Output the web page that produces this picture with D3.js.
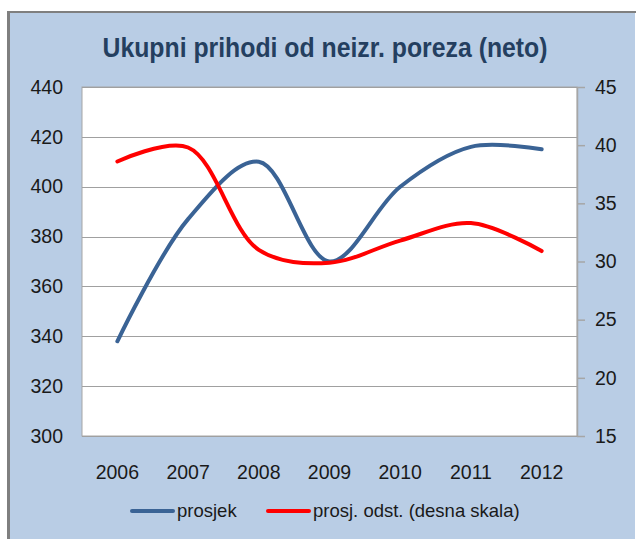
<!DOCTYPE html>
<html>
<head>
<meta charset="utf-8">
<script src="https://cdn.jsdelivr.net/npm/d3@7"></script>
<style>
  html, body { margin: 0; padding: 0; background: #fff; }
  svg { display: block; }
</style>
</head>
<body>
<div id="chart"></div>
<script>
"use strict";

// Data
const years = ["2006", "2007", "2008", "2009", "2010", "2011", "2012"];
const prosjek = [338, 387, 410, 370, 400, 416, 415];          // left axis
const prosjOdst = [38.6, 39.8, 31.0, 29.9, 31.8, 33.3, 30.9];  // right axis
const leftTicks = [300, 320, 340, 360, 380, 400, 420, 440];
const rightTicks = [15, 20, 25, 30, 35, 40, 45];
const seriesNames = ["prosjek", "prosj. odst. (desna skala)"];
const title = "Ukupni prihodi od neizr. poreza (neto)";

const W = 636, H = 539;
const plot = { left: 82, right: 577, top: 87, bottom: 436 };
const BG = "#b9cde5";
const BLUE = "#3a6395";
const RED = "#ff0000";
const TXT = "#1a1a1a";
const FONT = "'Liberation Sans', Arial, sans-serif";

const svg = d3.select("#chart").append("svg")
  .attr("width", W).attr("height", H);

// Chart area background + border (top and left visible)
svg.append("rect").attr("x", 0).attr("y", 0).attr("width", W).attr("height", H).attr("fill", "#fff");
svg.append("rect").attr("x", 8).attr("y", 12).attr("width", W - 9).attr("height", H - 12).attr("fill", BG);
svg.append("line").attr("x1", 8.5).attr("x2", 8.5).attr("y1", 11).attr("y2", H)
  .attr("stroke", "#7f7f7f").attr("stroke-width", 3);
svg.append("line").attr("x1", 7).attr("x2", W).attr("y1", 12).attr("y2", 12)
  .attr("stroke", "#7f7f7f").attr("stroke-width", 2);

// Title
svg.append("text")
  .attr("x", 325).attr("y", 57)
  .attr("text-anchor", "middle")
  .attr("font-family", "'Liberation Sans Narrow', 'Liberation Sans', Arial, sans-serif")
  .attr("font-size", 27)
  .attr("font-weight", "bold")
  .attr("fill", "#243f60")
  .attr("textLength", 445)
  .attr("lengthAdjust", "spacingAndGlyphs")
  .text(title);

// Scales
const x = d3.scaleBand().domain(years).range([plot.left, plot.right]);
const yL = d3.scaleLinear().domain([300, 440]).range([plot.bottom, plot.top]);
const yR = d3.scaleLinear().domain([15, 45]).range([plot.bottom, plot.top]);

// Plot area
svg.append("rect")
  .attr("x", plot.left).attr("y", plot.top)
  .attr("width", plot.right - plot.left).attr("height", plot.bottom - plot.top)
  .attr("fill", "#fff").attr("stroke", "#a6a6a6").attr("stroke-width", 1);

// Gridlines
svg.append("g").selectAll("line").data(leftTicks).join("line")
  .attr("x1", plot.left).attr("x2", plot.right)
  .attr("y1", (d) => Math.round(yL(d)) + 0.5).attr("y2", (d) => Math.round(yL(d)) + 0.5)
  .attr("stroke", "#a0a0a0").attr("stroke-width", 1.2);

// Left axis labels
const axL = svg.append("g")
  .attr("transform", `translate(${plot.left},0)`)
  .call(d3.axisLeft(yL).tickValues(leftTicks).tickSize(0).tickPadding(19));
axL.select(".domain").remove();
axL.selectAll("text").attr("font-family", FONT).attr("font-size", 19.5).attr("fill", TXT);

// Right axis
const axR = svg.append("g")
  .attr("transform", `translate(${plot.right},0)`)
  .call(d3.axisRight(yR).tickValues(rightTicks).tickSize(8).tickSizeOuter(0).tickPadding(10));
axR.select(".domain").attr("stroke", "#a6a6a6").attr("stroke-width", 1.5);
axR.selectAll(".tick line").attr("stroke", "#a6a6a6").attr("stroke-width", 1.5);
axR.selectAll("text").attr("font-family", FONT).attr("font-size", 19.5).attr("fill", TXT);

// X axis labels
const axX = svg.append("g")
  .attr("transform", `translate(0,${plot.bottom})`)
  .call(d3.axisBottom(x).tickSize(0).tickPadding(29));
axX.select(".domain").remove();
axX.selectAll("text").attr("font-family", FONT).attr("font-size", 19.5).attr("fill", TXT);

// Lines (smoothed like the spreadsheet)
const cx = (d, i) => x(years[i]) + x.bandwidth() / 2;
const lineL = d3.line().x(cx).y((d) => yL(d)).curve(d3.curveCatmullRom.alpha(0.5));
const lineR = d3.line().x(cx).y((d) => yR(d)).curve(d3.curveCatmullRom.alpha(0.5));

svg.append("path").datum(prosjek)
  .attr("d", lineL).attr("fill", "none")
  .attr("stroke", BLUE).attr("stroke-width", 4).attr("stroke-linecap", "round");
svg.append("path").datum(prosjOdst)
  .attr("d", lineR).attr("fill", "none")
  .attr("stroke", RED).attr("stroke-width", 4).attr("stroke-linecap", "round");

// Legend
const legend = [
  { name: seriesNames[0], color: BLUE, x: 132 },
  { name: seriesNames[1], color: RED, x: 268 }
];
const lg = svg.append("g").attr("transform", "translate(0,511)");
legend.forEach((l) => {
  lg.append("line")
    .attr("x1", l.x).attr("x2", l.x + 41).attr("y1", 0).attr("y2", 0)
    .attr("stroke", l.color).attr("stroke-width", 4).attr("stroke-linecap", "round");
  lg.append("text")
    .attr("x", l.x + 45).attr("y", 6)
    .attr("font-family", FONT).attr("font-size", 18.5).attr("fill", TXT)
    .text(l.name);
});
</script>
</body>
</html>
